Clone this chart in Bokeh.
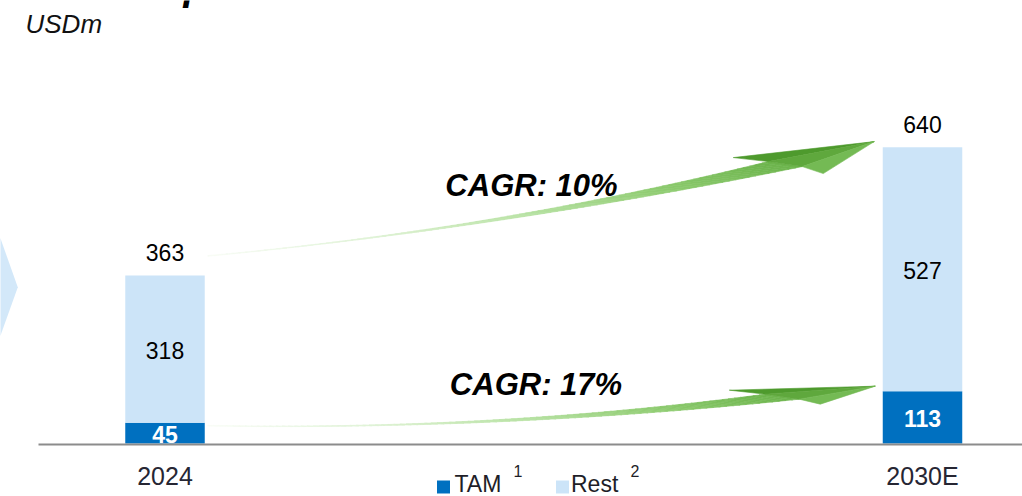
import numpy as np
from bokeh.plotting import figure
from bokeh.models import Range1d
from bokeh.core.properties import value
from bokeh.embed import file_html
from bokeh.resources import INLINE

# ---------------- data ----------------
categories = ["2024", "2030E"]
tam = [45, 113]
rest = [318, 527]
cagr_labels = ["CAGR: 10%", "CAGR: 17%"]
legend_labels = ["TAM", "Rest"]
legend_notes = ["1", "2"]
unit_label = "USDm"
title_fragment = "p"

totals = [t + r for t, r in zip(tam, rest)]

# ---------------- layout / style ----------------
W, H = 1022, 496
BASE_PX = 443.0
PX_PER_UNIT = 0.463
X0_PX, X1_PX = 164.5, 922.0
PX_PER_SLOT = X1_PX - X0_PX
x_start = -X0_PX / PX_PER_SLOT
x_end = (W - X0_PX) / PX_PER_SLOT
y_end = BASE_PX / PX_PER_UNIT
y_start = -(H - BASE_PX) / PX_PER_UNIT

TAM_C = "#0070C0"
REST_C = "#CCE4F8"
FONT = value("Liberation Sans")


def dx(px):
    return x_start + px / PX_PER_SLOT


def dy(py):
    return y_end - py / PX_PER_UNIT


def sx(x):
    return (x - x_start) * PX_PER_SLOT


def sy(y):
    return (y_end - y) * PX_PER_UNIT


p = figure(width=W, height=H, x_range=Range1d(x_start, x_end),
           y_range=Range1d(y_start, y_end), output_backend="svg",
           toolbar_location=None, min_border=0, outline_line_color=None,
           background_fill_color="white", border_fill_color="white")
p.axis.visible = False
p.grid.visible = False

xs = list(range(len(categories)))
bw = 79.5 / PX_PER_SLOT

# chevron shape at left edge (decoration)
p.patch(x=[dx(-3), dx(0), dx(17.3), dx(0), dx(-3)],
        y=[dy(238), dy(238), dy(286.7), dy(335), dy(335)],
        fill_color="#D3E8F9", line_color=None)

# bars
p.vbar(x=xs, bottom=0, top=tam, width=bw, fill_color=TAM_C, line_color=None)
p.vbar(x=xs, bottom=tam, top=totals, width=bw, fill_color=REST_C, line_color=None)

# baseline
p.segment(x0=[dx(38)], y0=[dy(444)], x1=[dx(W + 2)], y1=[dy(444)],
          line_color="#8C8C8C", line_width=2)

# ---------------- arrows ----------------
def lerp_color(t):
    stops = [(0.0, (248, 252, 246)), (0.3, (222, 242, 212)), (0.55, (184, 226, 164)),
             (0.8, (140, 202, 110)), (1.0, (108, 180, 76))]
    for (t0, c0), (t1, c1) in zip(stops[:-1], stops[1:]):
        if t <= t1:
            f = (t - t0) / (t1 - t0)
            c = [int(round(a + (b - a) * f)) for a, b in zip(c0, c1)]
            return "#%02x%02x%02x" % tuple(c)
    return "#%02x%02x%02x" % stops[-1][1]


def quad_fn(pts):
    c = np.polyfit([q[0] for q in pts], [q[1] for q in pts], 2)
    return lambda x: np.polyval(c, x)


def draw_arrow(tail, mid, hm, n_up, n_lo, b_up, tip, b_lo):
    top = quad_fn([(tail[0], tail[1] - 0.4), (mid[0], mid[1] - hm), n_up])
    bot = quad_fn([(tail[0], tail[1] + 0.4), (mid[0], mid[1] + hm), n_lo])
    n = 90
    ts = np.linspace(0, 1, n + 1)
    xt = tail[0] + ts * (n_up[0] - tail[0])
    xb = tail[0] + ts * (n_lo[0] - tail[0])
    yt = top(xt)
    yb = bot(xb)
    pxs, pys, cols = [], [], []
    for i in range(n):
        pxs.append([dx(v) for v in (xt[i], xt[i + 1], xb[i + 1], xb[i])])
        pys.append([dy(v) for v in (yt[i], yt[i + 1], yb[i + 1], yb[i])])
        cols.append(lerp_color((ts[i] + ts[i + 1]) / 2))
    p.patches(xs=pxs, ys=pys, fill_color=cols, line_color=cols, line_width=0.6)
    heads = [([b_up, tip, n_up], "#4E9A2D"),
             ([n_up, tip, n_lo], "#5FA83D"),
             ([n_lo, tip, b_lo], "#74BA54")]
    hx = [[dx(q[0]) for q in poly] for poly, _ in heads]
    hy = [[dy(q[1]) for q in poly] for poly, _ in heads]
    hc = [c for _, c in heads]
    p.patches(xs=hx, ys=hy, fill_color=hc, line_color=hc, line_width=0.6)


bar0_right = sx(xs[0]) + 79.5 / 2
bar1_left = sx(xs[1]) - 79.5 / 2

# upper arrow: from 2024 total towards 2030E total
a0 = (bar0_right, sy(totals[0]))
a1 = (bar1_left, sy(totals[1]))
draw_arrow(tail=(a0[0] + 3, a0[1] - 19.5), mid=(a0[0] + 349, a0[1] - 65.5), hm=2.0,
           n_up=(a1[0] - 114.5, a1[1] + 14.4), n_lo=(a1[0] - 80.5, a1[1] + 19.4),
           b_up=(a1[0] - 149.5, a1[1] + 10.4), tip=(a1[0] - 8.5, a1[1] - 5.6),
           b_lo=(a1[0] - 59.5, a1[1] + 26.4))

# lower arrow: from 2024 TAM towards 2030E TAM
b0 = (bar0_right, sy(tam[0]))
b1 = (bar1_left, sy(tam[1]))
draw_arrow(tail=(b0[0] + 3, b0[1] + 3), mid=(b0[0] + 346, b0[1] - 5), hm=1.5,
           n_up=(b1[0] - 117.5, b1[1] + 3), n_lo=(b1[0] - 83.5, b1[1] + 8),
           b_up=(b1[0] - 153.5, b1[1] - 1), tip=(b1[0] - 7.5, b1[1] - 5),
           b_lo=(b1[0] - 62.5, b1[1] + 13))

# CAGR labels
p.text(x=[dx(531), dx(535.5)], y=[dy(185), dy(384)], text=cagr_labels,
       text_font=FONT, text_font_size="31px", text_font_style="bold italic",
       text_color="#000000", text_align="center", text_baseline="middle")

# ---------------- value labels ----------------
p.text(x=xs, y=totals, text=[str(v) for v in totals], text_font=FONT,
       text_font_size="23px", text_color="#000000", text_align="center",
       text_baseline="middle", y_offset=-22.5)
p.text(x=xs, y=[t + r / 2 for t, r in zip(tam, rest)], text=[str(v) for v in rest],
       text_font=FONT, text_font_size="23px", text_color="#000000",
       text_align="center", text_baseline="middle", y_offset=1)
p.text(x=xs, y=[t / 2 for t in tam], text=[str(v) for v in tam], text_font=FONT,
       text_font_size="23px", text_font_style="bold", text_color="#FFFFFF",
       text_align="center", text_baseline="middle", y_offset=1.5)

# category labels
p.text(x=xs, y=[0, 0], text=categories, text_font=FONT, text_font_size="25px",
       text_color="#262633", text_align="center", text_baseline="middle", y_offset=32)

# ---------------- legend ----------------
p.scatter(x=[dx(443), dx(562)], y=[dy(486.5), dy(486.5)], marker="square", size=13,
          fill_color=[TAM_C, REST_C], line_color=None)
p.text(x=[dx(454), dx(570.5)], y=[dy(483), dy(483)], text=legend_labels,
       text_font=FONT, text_font_size="23px", text_color="#1E1E28",
       text_align="left", text_baseline="middle")
p.text(x=[dx(513), dx(630)], y=[dy(470), dy(470)], text=legend_notes,
       text_font=FONT, text_font_size="16px", text_color="#1E1E28",
       text_align="left", text_baseline="middle")

# ---------------- header texts ----------------
p.text(x=[dx(25)], y=[dy(23)], text=[unit_label], text_font=FONT,
       text_font_size="26px", text_font_style="italic", text_color="#111111",
       text_align="left", text_baseline="middle")
p.text(x=[dx(183)], y=[dy(6)], text=[title_fragment], text_font=FONT,
       text_font_size="40px", text_font_style="bold italic", text_color="#000000",
       text_align="left", text_baseline="middle", y_offset=-21)

open("out.html", "w").write(file_html(p, INLINE))
